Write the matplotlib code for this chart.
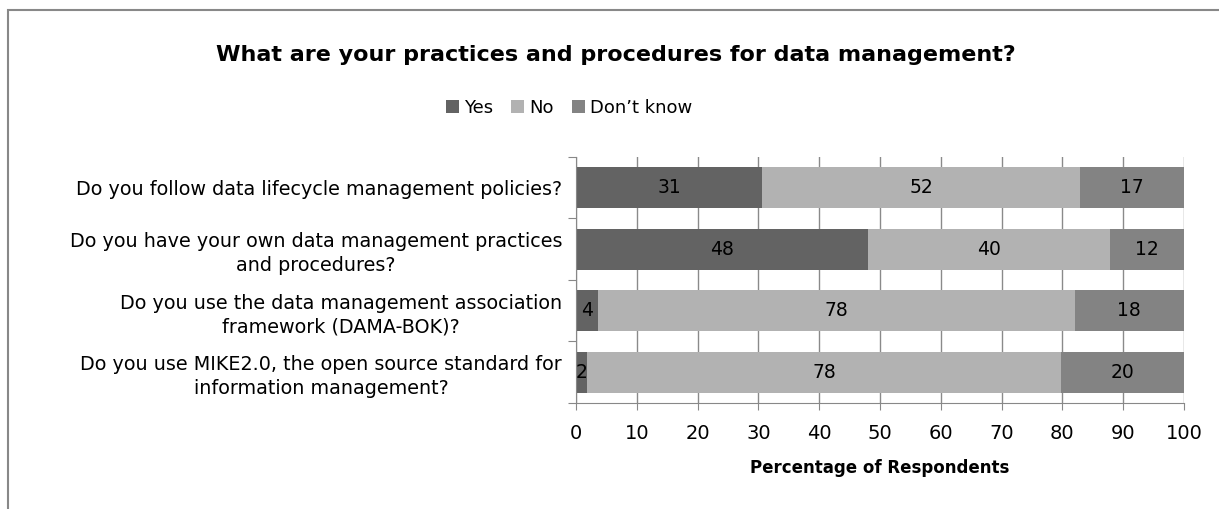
import matplotlib
matplotlib.use('Agg')
import matplotlib.pyplot as plt
from matplotlib.patches import Rectangle
import numpy as np

questions = [
    'Do you follow data lifecycle management policies?',
    'Do you have your own data management practices\nand procedures?',
    'Do you use the data management association\nframework (DAMA-BOK)?',
    'Do you use MIKE2.0, the open source standard for\ninformation management?',
]
yes = [30.6, 48.1, 3.6, 1.8]
no = [52.3, 39.7, 78.4, 78.0]
dont_know = [17.1, 12.2, 18.0, 20.2]
series_names = ['Yes', 'No', 'Don\u2019t know']
colors = ['#636363', '#b2b2b2', '#838383']

plt.rcParams['font.family'] = 'DejaVu Sans'

fig = plt.figure(figsize=(12.19, 5.09), dpi=100)
ax = fig.add_axes([0.4725, 0.2083, 0.4988, 0.4833])

y = np.arange(len(questions))
left = np.zeros(len(questions))
for vals, name, c in zip([yes, no, dont_know], series_names, colors):
    bars = ax.barh(y, vals, left=left, height=0.67, color=c, label=name, zorder=2)
    ax.bar_label(bars, labels=['%.0f' % v for v in vals], label_type='center',
                 fontsize=13.5, color='black')
    left += np.array(vals)

ax.set_xlim(0, 100)
ax.set_ylim(len(questions) - 0.5, -0.5)
ax.set_xticks(np.arange(0, 101, 10))
# category boundaries get the tick marks, the labels sit on minor ticks
ax.set_yticks(np.arange(-0.5, len(questions), 1))
ax.set_yticklabels([])
ax.set_yticks(y, minor=True)
ax.set_yticklabels(questions, minor=True, fontsize=13.8)
ax.tick_params(axis='y', which='minor', length=0, pad=10)
ax.tick_params(axis='y', which='major', length=6, color='#888888', direction='out')
ax.tick_params(axis='x', length=5, color='#888888', labelsize=14, pad=10)
for lab in ax.get_yticklabels(minor=True):
    lab.set_multialignment('center')
    lab.set_linespacing(1.3)

ax.grid(axis='x', color='#8a8a8a', linewidth=1, zorder=0)
ax.set_axisbelow(True)
for s in ['top', 'right']:
    ax.spines[s].set_visible(False)
for s in ['left', 'bottom']:
    ax.spines[s].set_color('#888888')

ax.set_xlabel('Percentage of Respondents', fontsize=12, fontweight='bold', labelpad=12)

fig.text(0.505, 0.892, 'What are your practices and procedures for data management?',
         ha='center', va='center', fontsize=16, fontweight='bold')
fig.legend(loc='center', bbox_to_anchor=(0.467, 0.788), ncol=3, frameon=False,
           fontsize=13, handlelength=0.7, handleheight=0.7, handletextpad=0.3,
           columnspacing=1.0)

fig.patches.append(Rectangle((8 / 1219, -0.1), 1.2, 1 - 10 / 509 + 0.1,
                             transform=fig.transFigure, fill=False,
                             edgecolor='#888888', linewidth=1.5))

fig.savefig('out.png', dpi=100)
